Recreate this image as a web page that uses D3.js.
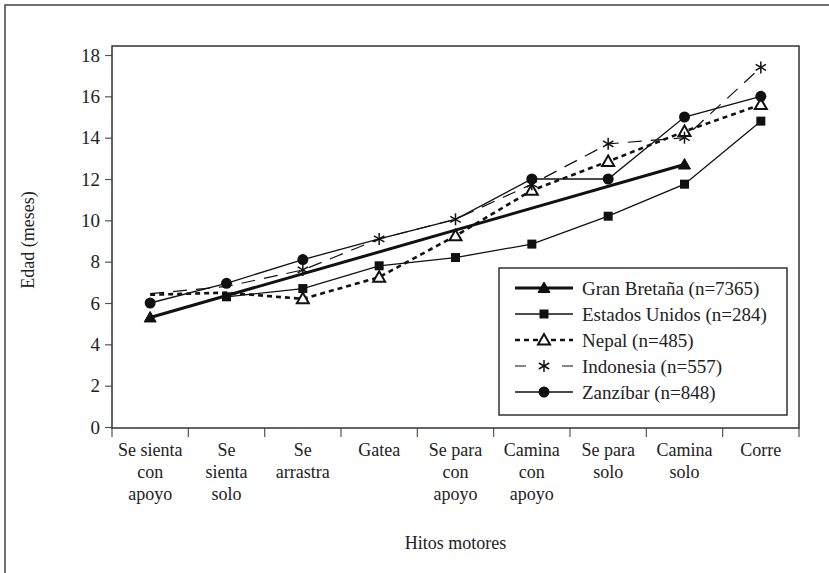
<!DOCTYPE html>
<html>
<head>
<meta charset="utf-8">
<script src="https://cdn.jsdelivr.net/npm/d3@7"></script>
<style>
  body { margin: 0; background: #fff; }
  text { font-family: "Liberation Serif", "DejaVu Serif", serif; fill: #222; }
</style>
</head>
<body>
<div class="canvas"></div>
<script>
// hitos motores (eje x), con sus renglones de etiqueta
const hitos = ["Se sienta con apoyo", "Se sienta solo", "Se arrastra", "Gatea",
  "Se para con apoyo", "Camina con apoyo", "Se para solo", "Camina solo", "Corre"];
const hitosRenglones = [
  ["Se sienta", "con", "apoyo"], ["Se", "sienta", "solo"], ["Se", "arrastra"], ["Gatea"],
  ["Se para", "con", "apoyo"], ["Camina", "con", "apoyo"], ["Se para", "solo"], ["Camina", "solo"], ["Corre"]
];
const yTicks = [0, 2, 4, 6, 8, 10, 12, 14, 16, 18];

// edad en meses, null = sin dato
const granBretana   = [5.3, null, null, null, null, null, null, 12.7, null];
const estadosUnidos = [null, 6.3, 6.7, 7.8, 8.2, 8.85, 10.2, 11.75, 14.8];
const nepal         = [6.4, 6.5, 6.2, 7.25, 9.25, 11.45, 12.85, 14.3, 15.6];
const indonesia     = [6.45, 6.8, 7.6, 9.1, 10.05, 11.75, 13.7, 14.0, 17.4];
const zanzibar      = [6.0, 6.95, 8.1, 9.1, 10.05, 12.0, 12.0, 15.0, 16.0];

// puntos con marcador visible en el original
const nepalMarcas     = [0, 0, 1, 1, 1, 1, 1, 1, 1];
const indonesiaMarcas = [0, 0, 1, 1, 1, 1, 1, 1, 1];
const zanzibarMarcas  = [1, 1, 1, 0, 0, 1, 1, 1, 1];

const series = [
  { name: "Gran Bretaña (n=7365)", values: granBretana, marker: "triFill", width: 3, dash: null },
  { name: "Estados Unidos (n=284)", values: estadosUnidos, marker: "square", width: 1.3, dash: null },
  { name: "Nepal (n=485)", values: nepal, marks: nepalMarcas, marker: "triOpen", width: 2.6, dash: "5,4", legendDash: "5,4" },
  { name: "Indonesia (n=557)", values: indonesia, marks: indonesiaMarcas, marker: "star", width: 1.2, dash: "14,9", legendDash: "11,36" },
  { name: "Zanzíbar (n=848)", values: zanzibar, marks: zanzibarMarcas, marker: "circle", width: 1.3, dash: null }
];

const W = 829, H = 573;
const plot = { left: 112, right: 799, top: 46, bottom: 428 };

const svg = d3.select(".canvas").append("svg").attr("width", W).attr("height", H);

// marco exterior (solo arriba e izquierda)
svg.append("path")
  .attr("d", `M5,${H} L5,5 L${W},5`)
  .attr("fill", "none").attr("stroke", "#444").attr("stroke-width", 1.5);

const x = d3.scaleBand().domain(hitos).range([plot.left, plot.right]).padding(0);
const y = d3.scaleLinear().domain([0, 18]).range([427, 55]);

// ejes
const yAxis = svg.append("g").attr("transform", `translate(${plot.left},0)`)
  .call(d3.axisLeft(y).tickValues(yTicks).tickSize(7).tickPadding(5).tickFormat(d3.format("d")));
yAxis.select(".domain").remove();
yAxis.selectAll(".tick line").attr("stroke", "#555").attr("stroke-width", 1.2);
yAxis.selectAll(".tick text").style("font-size", "19px").style("font-family", "Liberation Serif").attr("fill", "#222");

// marcas del eje x en los limites de cada banda
const bordes = hitos.map(h => x(h)).concat([plot.right]);
svg.append("g").selectAll("line").data(bordes).enter().append("line")
  .attr("x1", d => d).attr("x2", d => d)
  .attr("y1", plot.bottom).attr("y2", plot.bottom + 9)
  .attr("stroke", "#555").attr("stroke-width", 1.2);

// caja del grafico
svg.append("rect")
  .attr("x", plot.left).attr("y", plot.top)
  .attr("width", plot.right - plot.left).attr("height", plot.bottom - plot.top)
  .attr("fill", "none").attr("stroke", "#333").attr("stroke-width", 1.5);

// etiquetas del eje x
const xl = svg.append("g").selectAll("text").data(hitos).enter().append("text")
  .attr("x", d => x(d) + x.bandwidth() / 2)
  .attr("y", 456)
  .attr("text-anchor", "middle")
  .style("font-size", "18px");
xl.each(function (d, i) {
  const t = d3.select(this);
  hitosRenglones[i].forEach((r, j) => {
    t.append("tspan").attr("x", x(d) + x.bandwidth() / 2).attr("dy", j == 0 ? 0 : 22).text(r);
  });
});

svg.append("text").attr("x", (plot.left + plot.right) / 2).attr("y", 549)
  .attr("text-anchor", "middle").style("font-size", "18px").text("Hitos motores");

svg.append("text")
  .attr("transform", "translate(34,240) rotate(-90)")
  .attr("text-anchor", "middle").style("font-size", "18px").text("Edad (meses)");

// marcadores
let drawMarker = (g, type, cx, cy) => {
  if (type == "triFill" || type == "triOpen") {
    const s = 6;
    g.append("path")
      .attr("d", `M${cx},${cy - s} L${cx + s},${cy + s * 0.75} L${cx - s},${cy + s * 0.75} Z`)
      .attr("fill", type == "triFill" ? "#111" : "#fff")
      .attr("stroke", "#111").attr("stroke-width", type == "triFill" ? 1 : 2);
  } else if (type == "square") {
    g.append("rect").attr("x", cx - 4.5).attr("y", cy - 4.5).attr("width", 9).attr("height", 9).attr("fill", "#111");
  } else if (type == "circle") {
    g.append("circle").attr("cx", cx).attr("cy", cy).attr("r", 5.5).attr("fill", "#111");
  } else if (type == "star") {
    const r = 6;
    [90, 30, 150].forEach(a => {
      const dx = r * Math.cos(a * Math.PI / 180), dy = r * Math.sin(a * Math.PI / 180);
      g.append("line").attr("x1", cx - dx).attr("y1", cy - dy).attr("x2", cx + dx).attr("y2", cy + dy)
        .attr("stroke", "#111").attr("stroke-width", 1.5);
    });
  }
};

const line = d3.line().x(d => x(d.h) + x.bandwidth() / 2).y(d => y(d.v));

const linesG = svg.append("g");
const marksG = svg.append("g");
series.forEach(s => {
  const pts = s.values.map((v, i) => ({ h: hitos[i], v: v, m: s.marks ? s.marks[i] : 1 }))
    .filter(d => d.v != null);
  linesG.append("path").datum(pts)
    .attr("d", line)
    .attr("fill", "none").attr("stroke", "#111")
    .attr("stroke-width", s.width)
    .attr("stroke-dasharray", s.dash);
  pts.filter(d => d.m).forEach(d => drawMarker(marksG, s.marker, x(d.h) + x.bandwidth() / 2, y(d.v)));
});

// leyenda
const leg = svg.append("g");
leg.append("rect").attr("x", 499).attr("y", 268).attr("width", 288).attr("height", 147)
  .attr("fill", "#fff").attr("stroke", "#333").attr("stroke-width", 1.5);
series.forEach((s, i) => {
  const ly = 288 + i * 26;
  leg.append("line").attr("x1", 515).attr("x2", 573).attr("y1", ly).attr("y2", ly)
    .attr("stroke", "#111").attr("stroke-width", s.width)
    .attr("stroke-dasharray", s.legendDash || null);
  drawMarker(leg, s.marker, 544, ly);
  leg.append("text").attr("x", 582).attr("y", ly).attr("dy", "0.35em")
    .style("font-size", "19px").text(s.name);
});
</script>
</body>
</html>
